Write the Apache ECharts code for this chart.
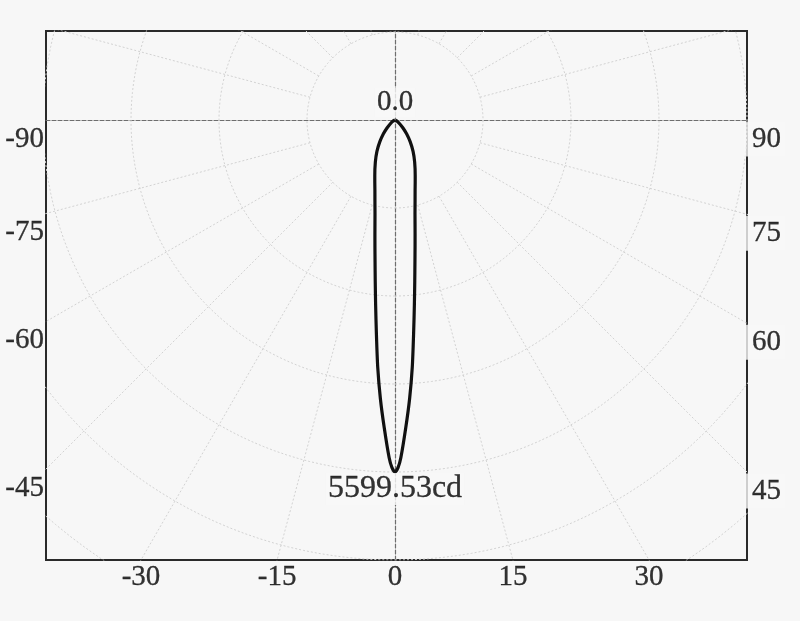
<!DOCTYPE html>
<html><head><meta charset="utf-8">
<script src="https://cdn.jsdelivr.net/npm/echarts@6/dist/echarts.min.js"></script>
<style>html,body{margin:0;padding:0;background:#f7f7f7}#c{width:800px;height:621px}</style>
</head><body><div id="c"></div>
<script>
// ---- data ----
const gammaAngles = [0, 0.5, 1, 2, 3, 4, 5, 6, 7, 8, 9, 10, 12, 14, 16, 18, 20, 25, 30, 35, 40, 45, 50, 60, 70, 80, 90];
const intensityCd = [5599.53, 5530, 5370, 4900, 4440, 3940, 3400, 2950, 2580, 2280, 2040, 1840, 1530, 1320, 1160, 1040, 940, 740, 575, 420, 290, 180, 105, 40, 10, 0, 0];
const peakLabel = '5599.53cd';
const topLabel = '0.0';
const leftTickLabels = [-90, -75, -60, -45];
const bottomTickLabels = [-30, -15, 0, 15, 30];
const rightTickLabels = [90, 75, 60, 45];
const ringValues = [1400, 2800, 4200, 5600, 7000, 8400, 9800];
const spokeAngles = [15, 30, 45, 60, 75, 105, 120, 135, 150, 165, 195, 210, 225, 240, 255, 285, 300, 315, 330, 345];

// ---- layout ----
const BOX = { left: 46, top: 31, right: 747, bottom: 560 };
const CENTER = { x: 395, y: 120 };
const PEAK_PX = 352;
const peakCd = Math.max(...intensityCd);
const S = peakCd / PEAK_PX; // cd per pixel
const xMin = -(CENTER.x - BOX.left) * S, xMax = (BOX.right - CENTER.x) * S;
const yMax = (CENTER.y - BOX.top) * S, yMin = -(BOX.bottom - CENTER.y) * S;
const FONT = 'Liberation Serif';
const FS = 29;
const BG = '#f7f7f7';
const TXT = { fontFamily: FONT, fontSize: FS, color: '#000', textBorderColor: '#000', textBorderWidth: 0.3 };
const rad = d => d * Math.PI / 180;
// gamma measured from downward vertical, positive to the right
const toXY = (deg, cd) => [cd * Math.sin(rad(deg)), -cd * Math.cos(rad(deg))];

const series = [];
const gridLine = { color: '#d2d2d2', width: 1, type: [2, 2] };
ringValues.forEach(r => {
  const pts = [];
  for (let a = 0; a <= 360; a += 2) pts.push(toXY(a, r));
  series.push({ type: 'line', data: pts, symbol: 'none', silent: true, clip: true, z: 1, lineStyle: gridLine });
});
spokeAngles.forEach(a => {
  series.push({ type: 'line', data: [toXY(a, ringValues[0]), toXY(a, 12000)], symbol: 'none', silent: true, clip: true, z: 1, lineStyle: gridLine });
});
// curve
const curve = [];
for (let i = gammaAngles.length - 1; i >= 0; i--) curve.push(toXY(-gammaAngles[i], intensityCd[i]));
for (let i = 1; i < gammaAngles.length; i++) curve.push(toXY(gammaAngles[i], intensityCd[i]));
series.push({ type: 'line', data: curve, symbol: 'none', smooth: 0.25, clip: true, z: 5,
  lineStyle: { color: '#111', width: 3.2 } });
// value labels
series.push({ type: 'scatter', symbolSize: 0, clip: false, silent: true, z: 6,
  data: [
    { value: [0, 0], label: { position: 'top', distance: 3, formatter: topLabel } },
    { value: toXY(0, peakCd), label: { position: 'bottom', distance: 1, fontSize: 32, formatter: peakLabel } }
  ],
  label: Object.assign({ show: true, backgroundColor: BG, padding: [0, 2] }, TXT) });
// border angle labels
const leftPts = leftTickLabels.map(a => {
  const t = xMin / Math.sin(rad(a));
  return { value: [xMin, -Math.cos(rad(a)) * t], label: { formatter: String(a) } };
});
const rightPts = rightTickLabels.map(a => {
  const t = xMax / Math.sin(rad(a));
  return { value: [xMax, -Math.cos(rad(a)) * t], label: { formatter: String(a) } };
});
const bottomPts = bottomTickLabels.map(a => {
  const t = yMin / (-Math.cos(rad(a)));
  return { value: [Math.sin(rad(a)) * t, yMin], label: { formatter: String(a) } };
});
series.push({ type: 'scatter', symbolSize: 0, clip: false, silent: true, z: 6, data: leftPts,
  label: Object.assign({ show: true, position: 'left', distance: 2, offset: [0, 19] }, TXT) });
series.push({ type: 'scatter', symbolSize: 0, clip: false, silent: true, z: 6, data: rightPts,
  label: Object.assign({ show: true, position: 'right', distance: 0, offset: [-3, 19], backgroundColor: BG, padding: [3, 4, 3, 8] }, TXT) });
series.push({ type: 'scatter', symbolSize: 0, clip: false, silent: true, z: 6, data: bottomPts,
  label: Object.assign({ show: true, position: 'bottom', distance: 3 }, TXT) });

const axisCommon = {
  type: 'value', axisTick: { show: false }, axisLabel: { show: false }, splitLine: { show: false },
  axisLine: { show: true, onZero: true, lineStyle: { color: '#6e6e6e', width: 1.2, type: [4, 2] } }
};
const chart = echarts.init(document.getElementById('c'), null, { renderer: 'canvas' });
chart.setOption({
  backgroundColor: BG,
  animation: false,
  grid: { left: BOX.left, top: BOX.top, width: BOX.right - BOX.left, height: BOX.bottom - BOX.top,
    show: true, borderColor: '#2a2a2a', borderWidth: 2, backgroundColor: 'transparent', containLabel: false, outerBoundsMode: 'none' },
  xAxis: Object.assign({ min: xMin, max: xMax }, axisCommon),
  yAxis: Object.assign({ min: yMin, max: yMax }, axisCommon),
  series
});
</script></body></html>
